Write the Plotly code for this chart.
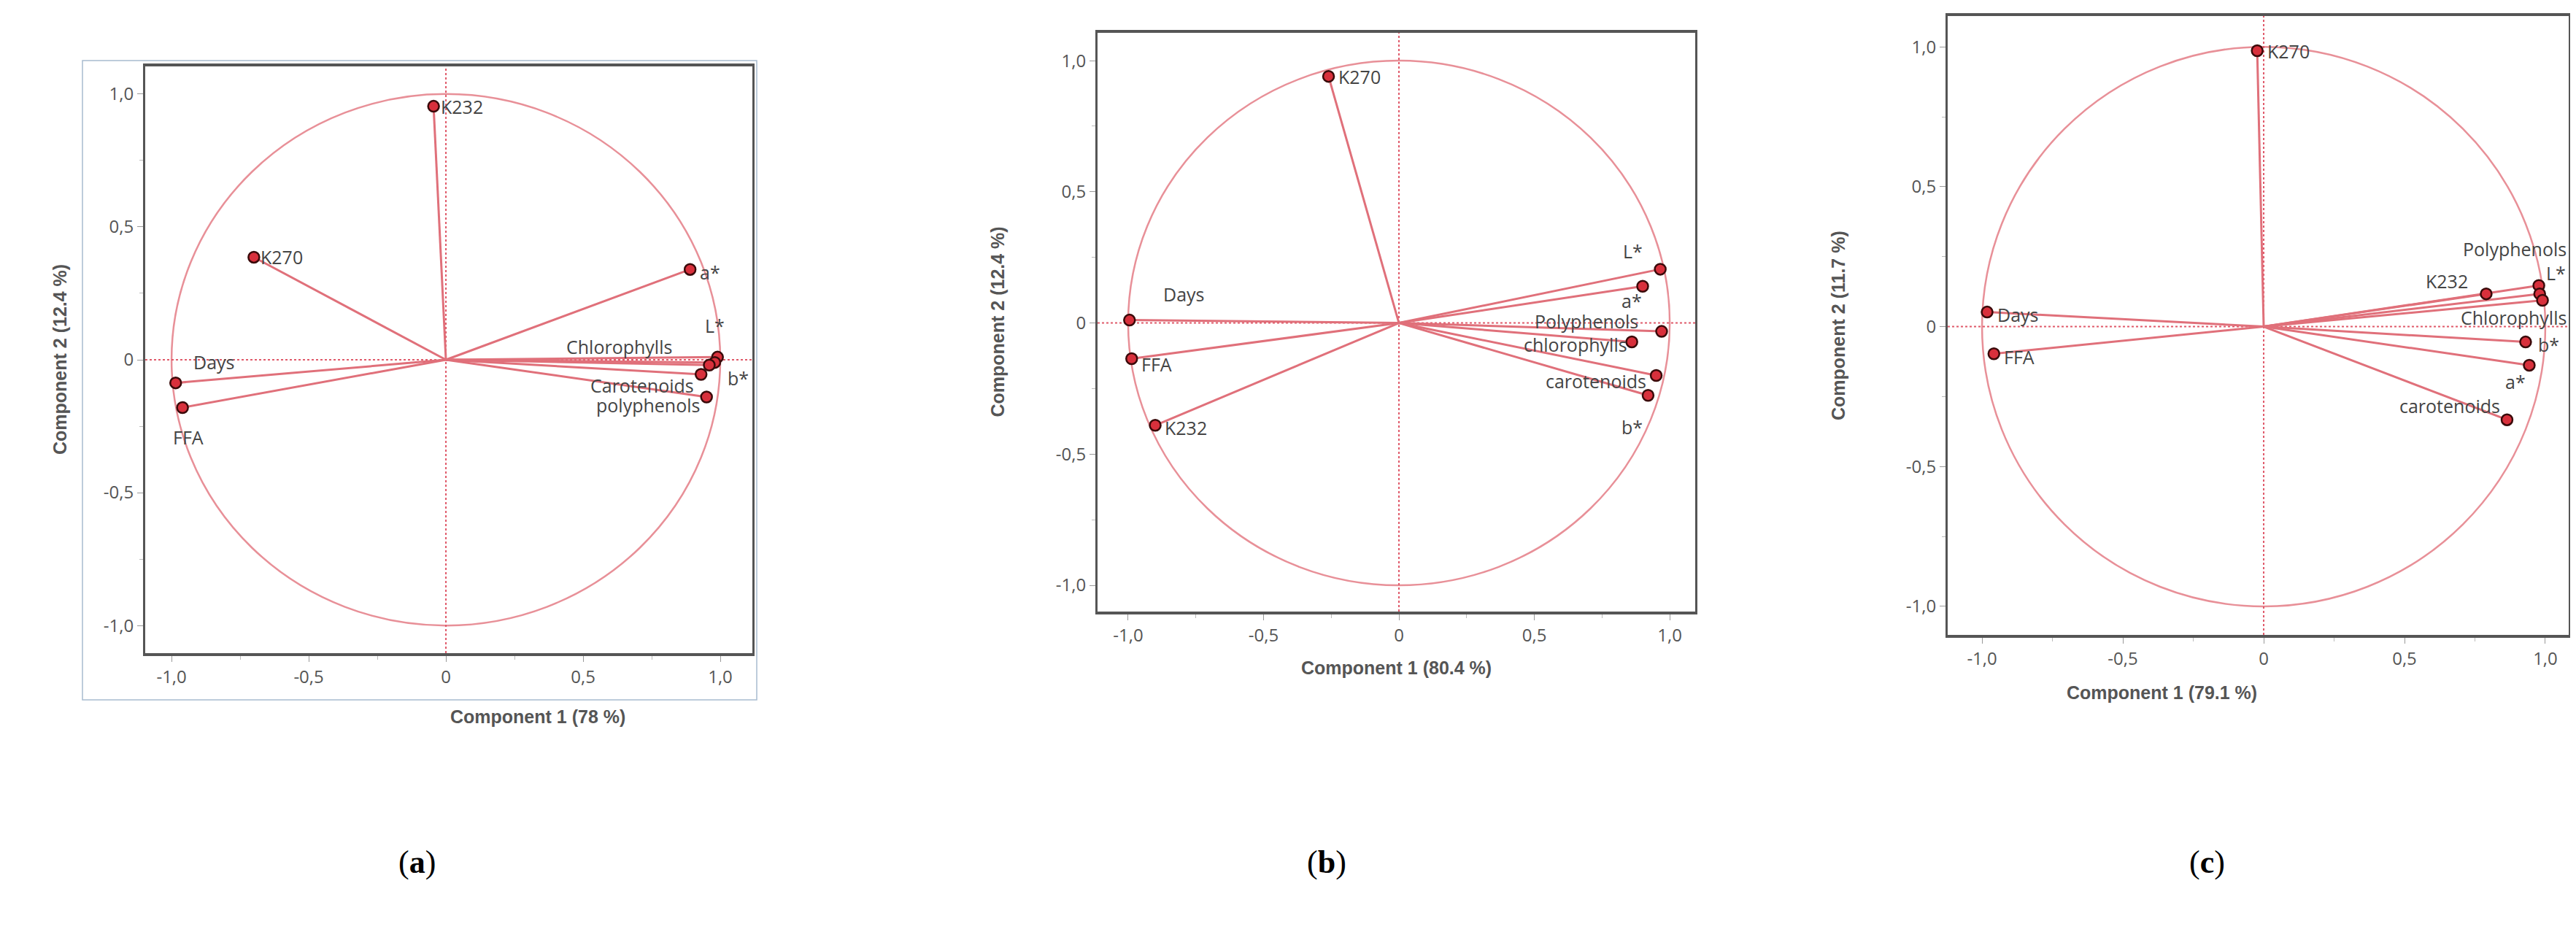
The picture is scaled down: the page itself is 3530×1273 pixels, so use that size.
import plotly.graph_objects as go

# ---------------- data ----------------
a_vars = ["K232", "K270", "a*", "L*", "b*", "Chlorophylls", "Carotenoids", "polyphenols", "Days", "FFA"]
a_pc1 = [-0.045, -0.70, 0.89, 0.99, 0.98, 0.96, 0.93, 0.95, -0.985, -0.96]
a_pc2 = [0.954, 0.386, 0.34, 0.01, -0.01, -0.02, -0.055, -0.14, -0.087, -0.18]

b_vars = ["K270", "Days", "FFA", "K232", "L*", "a*", "Polyphenols", "chlorophylls", "carotenoids", "b*"]
b_pc1 = [-0.26, -0.995, -0.987, -0.90, 0.965, 0.90, 0.97, 0.86, 0.95, 0.92]
b_pc2 = [0.94, 0.011, -0.136, -0.39, 0.205, 0.14, -0.032, -0.072, -0.20, -0.276]

c_vars = ["K270", "Days", "FFA", "K232", "L*", "Polyphenols", "Chlorophylls", "b*", "a*", "carotenoids"]
c_pc1 = [-0.023, -0.982, -0.958, 0.79, 0.977, 0.98, 0.99, 0.93, 0.943, 0.864]
c_pc2 = [0.986, 0.052, -0.097, 0.117, 0.147, 0.117, 0.094, -0.055, -0.138, -0.333]

x_titles = ["Component 1 (78 %)", "Component 1 (80.4 %)", "Component 1 (79.1 %)"]
y_titles = ["Component 2 (12.4 %)", "Component 2 (12.4 %)", "Component 2 (11.7 %)"]
panel_tags = ["a", "b", "c"]
tick_vals = [-1.0, -0.5, 0, 0.5, 1.0]
tick_text = ["-1,0", "-0,5", "0", "0,5", "1,0"]

# ---------------- label placement (style) ----------------
# (dx, dy in data units, xanchor)
a_lab = [(0.02, 0.0, "left"), (0.02, 0.0, "left"), (0.03, -0.01, "left"), (-0.01, 0.12, "center"),
         (0.04, -0.06, "left"), (-0.13, 0.07, "right"), (-0.02, -0.04, "right"), (-0.02, -0.03, "right"),
         (0.06, 0.08, "left"), (0.02, -0.11, "center")]
b_lab = [(0.03, 0.0, "left"), (0.2, 0.1, "center"), (0.03, -0.02, "left"), (0.03, -0.01, "left"),
         (-0.06, 0.07, "right"), (-0.04, -0.055, "center"), (-0.08, 0.04, "right"), (-0.01, -0.01, "right"),
         (-0.03, -0.02, "right"), (-0.06, -0.12, "center")]
c_lab = [(0.03, 0.0, "left"), (0.03, -0.01, "left"), (0.03, -0.01, "left"), (-0.06, 0.045, "right"),
         (0.06, 0.045, "center"), (0.10, 0.16, "right"), (0.09, -0.06, "right"), (0.04, -0.01, "left"),
         (-0.05, -0.06, "center"), (-0.02, 0.05, "right")]

W, H = 3530, 1273
# plot box pixel geometry and axis ranges per panel
boxes = [(191, 1023, 83, 887), (1496, 2315, 37, 830), (2661, 3512, 14, 862)]
xranges = [(-1.096, 1.117), (-1.113, 1.094), (-1.122, 1.083)]
yranges = [(-1.104, 1.104), (-1.10, 1.106), (-1.102, 1.11)]
ytitle_x = [58, 1358, 2527]
xtitle_y = [990, 923, 957]
tag_x = [536, 1810, 3043]

LINE = "#e0707a"
TXT = "#444444"

fig = go.Figure()
panels = [(a_vars, a_pc1, a_pc2, a_lab), (b_vars, b_pc1, b_pc2, b_lab), (c_vars, c_pc1, c_pc2, c_lab)]
shapes, annots = [], []
for i, (names, px, py, labs) in enumerate(panels):
    k = "" if i == 0 else str(i + 1)
    xa, ya = "x" + k, "y" + k
    l, r, t, b = boxes[i]
    fig.update_layout(**{
        "xaxis" + k: dict(domain=[l / W, r / W], range=list(xranges[i]), anchor=ya,
                          tickvals=tick_vals, ticktext=tick_text, ticks="outside", ticklen=8,
                          tickcolor="#999", minor=dict(dtick=0.25, ticks="outside", ticklen=5, tickcolor="#bbb"),
                          showgrid=False, zeroline=False, showline=True, linecolor="#555", linewidth=4,
                          mirror=True, tickfont=dict(size=24, color="#555", family="Open Sans"),
                          fixedrange=True),
        "yaxis" + k: dict(domain=[1 - b / H, 1 - t / H], range=list(yranges[i]), anchor=xa,
                          tickvals=tick_vals, ticktext=tick_text, ticks="outside", ticklen=8,
                          tickcolor="#999", minor=dict(dtick=0.25, ticks="outside", ticklen=5, tickcolor="#bbb"),
                          showgrid=False, zeroline=False, showline=True, linecolor="#555", linewidth=3,
                          mirror=True, tickfont=dict(size=24, color="#555", family="Open Sans"),
                          fixedrange=True),
    })
    # correlation circle
    shapes.append(dict(type="circle", xref=xa, yref=ya, x0=-1, x1=1, y0=-1, y1=1,
                       line=dict(color="#e89098", width=2.5), layer="below"))
    # dotted zero lines
    shapes.append(dict(type="line", xref=xa, yref=ya, x0=xranges[i][0], x1=xranges[i][1], y0=0, y1=0,
                       line=dict(color="#e05a6a", width=2, dash="dot"), layer="below"))
    shapes.append(dict(type="line", xref=xa, yref=ya, x0=0, x1=0, y0=yranges[i][0], y1=yranges[i][1],
                       line=dict(color="#e05a6a", width=2, dash="dot"), layer="below"))
    # vectors
    lx, ly = [], []
    for x, y in zip(px, py):
        lx += [0, x, None]
        ly += [0, y, None]
    fig.add_trace(go.Scatter(x=lx, y=ly, mode="lines", line=dict(color=LINE, width=3),
                             xaxis=xa, yaxis=ya, showlegend=False, hoverinfo="skip"))
    fig.add_trace(go.Scatter(x=px, y=py, mode="markers", text=names,
                             marker=dict(size=15, color="#d8303c", line=dict(color="#3a0a0a", width=2.5)),
                             xaxis=xa, yaxis=ya, showlegend=False))
    for n, x, y, (dx, dy, anc) in zip(names, px, py, labs):
        annots.append(dict(x=x + dx, y=y + dy, xref=xa, yref=ya, text=n, showarrow=False,
                           xanchor=anc, yanchor="middle",
                           font=dict(size=25, color=TXT, family="Open Sans")))
    # axis titles
    annots.append(dict(x=(l + r) / 2 / W, y=1 - xtitle_y[i] / H, xref="paper", yref="paper",
                       text="<b>" + x_titles[i] + "</b>", showarrow=False,
                       font=dict(size=25, color="#555", family="Liberation Sans")))
    annots.append(dict(x=ytitle_x[i] / W, y=1 - (t + b) / 2 / H, xref="paper", yref="paper",
                       text="<b>" + y_titles[i] + "</b>", showarrow=False, textangle=-90,
                       font=dict(size=25, color="#555", family="Liberation Sans")))
    annots.append(dict(x=tag_x[i] / W, y=1 - 1200 / H, xref="paper", yref="paper",
                       text="(<b>" + panel_tags[i] + "</b>)", showarrow=False,
                       font=dict(size=44, color="black", family="Liberation Serif")))

# selection frame around panel (a)
shapes.append(dict(type="rect", xref="paper", yref="paper", x0=105 / W, x1=1029 / W,
                   y0=1 - 951 / H, y1=1 - 75 / H, line=dict(color="#a8bcd0", width=1.5)))

fig.update_layout(width=W, height=H, margin=dict(l=0, r=0, t=0, b=0),
                  paper_bgcolor="white", plot_bgcolor="white",
                  shapes=shapes, annotations=annots)
fig.write_html("out.html")
